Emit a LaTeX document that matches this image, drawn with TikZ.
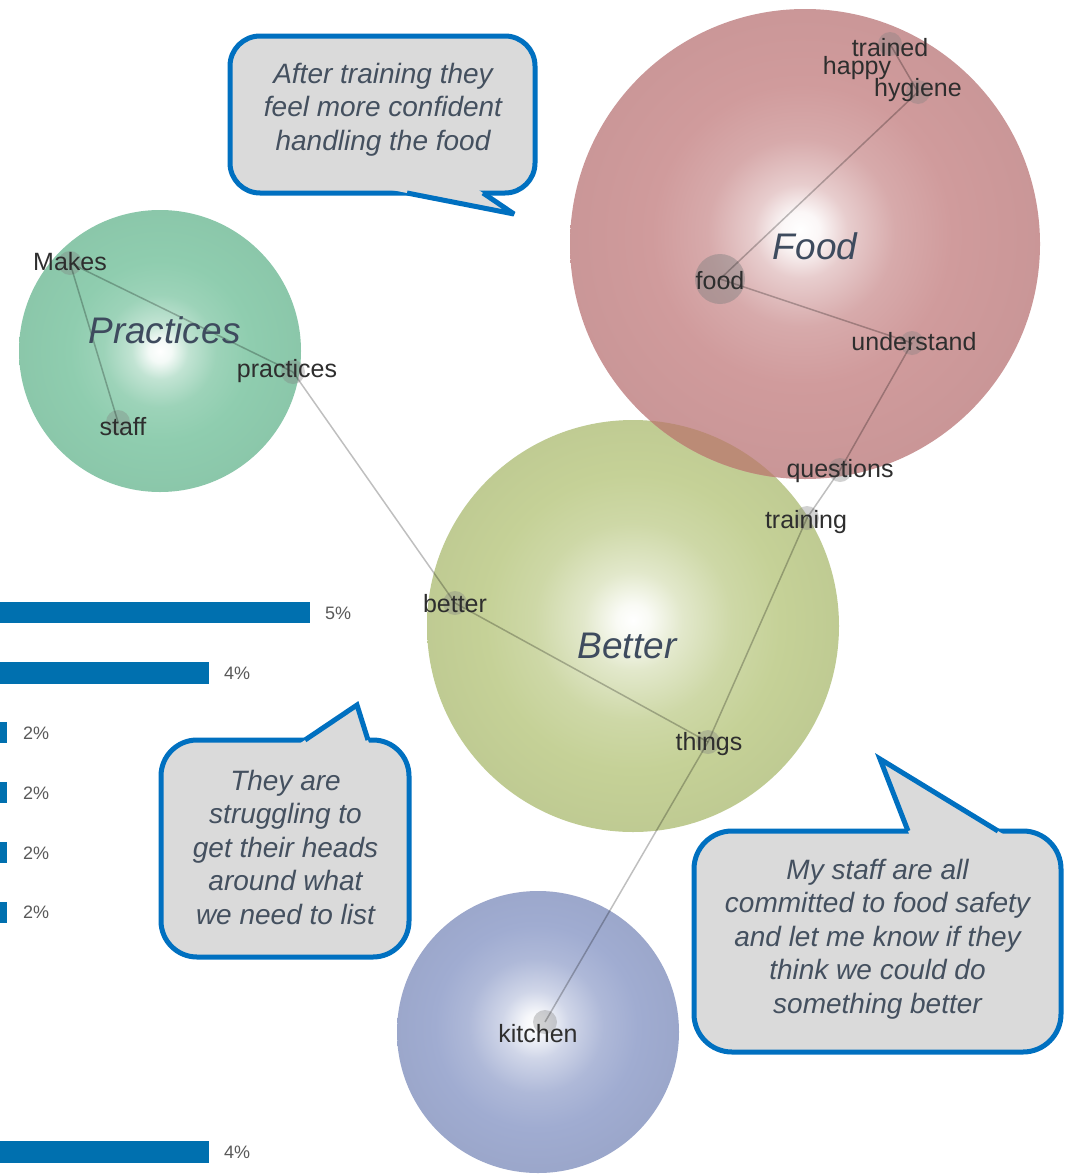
\documentclass[tikz,border=0pt]{standalone}
\usepackage{fontspec}
\setmainfont{Liberation Sans}
\usetikzlibrary{calc}
\definecolor{foodc}{HTML}{D09B9C}
\definecolor{pracc}{HTML}{8FCDAF}
\definecolor{bettc}{HTML}{C5D197}
\definecolor{kitc}{HTML}{A0ACD1}
\definecolor{lensc}{HTML}{BA8B74}
\definecolor{barblue}{HTML}{0070AF}
\definecolor{boxblue}{HTML}{0070C0}
\definecolor{boxgray}{HTML}{DADADA}
\definecolor{qtext}{HTML}{44505F}
\definecolor{titletext}{HTML}{3E4B5E}
\definecolor{pcttext}{HTML}{595959}
\pgfdeclareradialshading{foodsh}{\pgfpoint{-0.5bp}{1.5bp}}{color(0bp)=(white); color(2bp)=(white!92!foodc); color(5bp)=(white!50!foodc); color(10bp)=(white!15!foodc); color(16bp)=(foodc); color(25bp)=(foodc!97!black); color(50bp)=(foodc!97!black)}
\pgfdeclareradialshading{pracsh}{\pgfpoint{0bp}{0bp}}{color(0bp)=(white); color(2bp)=(white!90!pracc); color(5bp)=(white!45!pracc); color(10bp)=(white!12!pracc); color(16bp)=(pracc); color(25bp)=(pracc!97!black); color(50bp)=(pracc!97!black)}
\pgfdeclareradialshading{bettsh}{\pgfpoint{0bp}{0.7bp}}{color(0bp)=(white); color(2bp)=(white!90!bettc); color(6bp)=(white!50!bettc); color(12bp)=(white!15!bettc); color(18bp)=(bettc); color(25bp)=(bettc!97!black); color(50bp)=(bettc!97!black)}
\pgfdeclareradialshading{kitsh}{\pgfpoint{-0.5bp}{1.5bp}}{color(0bp)=(white); color(2bp)=(white!90!kitc); color(6bp)=(white!50!kitc); color(12bp)=(white!15!kitc); color(18bp)=(kitc); color(25bp)=(kitc!97!black); color(50bp)=(kitc!97!black)}
\begin{document}
\begin{tikzpicture}[x=1pt,y=-1pt,
  edge/.style={draw=black,draw opacity=0.25,line width=1.5pt},
  dot/.style={circle,fill=gray,fill opacity=0.35,minimum size=24pt,inner sep=0pt},
  bigdot/.style={circle,fill=gray,fill opacity=0.45,minimum size=50pt,inner sep=0pt},
  lbl/.style={font=\fontsize{25}{30}\selectfont,text=black!82,inner sep=0pt,anchor=base},
  title/.style={font=\itshape\fontsize{37}{44}\selectfont,text=titletext,inner sep=0pt,anchor=base},
  pct/.style={font=\fontsize{18}{22}\selectfont,text=pcttext,inner sep=0pt,anchor=west},
  bar/.style={fill=barblue},
  cbox/.style={fill=boxgray,draw=boxblue,line width=5pt},
  cptr/.style={draw=boxblue,line width=5pt,line join=miter,miter limit=4},
  ctext/.style={font=\itshape\fontsize{28}{33.5}\selectfont,text=qtext,align=center,inner sep=0pt}
]
\useasboundingbox (0,0) rectangle (1067,1175);
\fill[white] (0,0) rectangle (1067,1175);

% bars
\fill[bar] (0,602) rectangle (310,623);
\fill[bar] (0,662) rectangle (209,684);
\fill[bar] (0,722) rectangle (7,743);
\fill[bar] (0,782) rectangle (7,803);
\fill[bar] (0,842) rectangle (7,863);
\fill[bar] (0,902) rectangle (7,923);
\fill[bar] (0,1141) rectangle (209,1163);
\node[pct] (p1) at (325,613) {5\%};
\node[pct] (p2) at (224,673) {4\%};
\node[pct] (p3) at (23,733) {2\%};
\node[pct] (p4) at (23,793) {2\%};
\node[pct] (p5) at (23,853) {2\%};
\node[pct] (p6) at (23,912) {2\%};
\node[pct] (p7) at (224,1152) {4\%};

% clusters
\shade[shading=pracsh] (160,351) circle (141);
\shade[shading=bettsh] (633,626) circle (206);
\shade[shading=foodsh] (805,244) circle (235);
\begin{scope}
  \clip (805,244) circle (235);
  \fill[lensc,opacity=0.92] (633,626) circle (206);
\end{scope}
\shade[shading=kitsh] (538,1032) circle (141);

% word dots
\node[dot] (dMakes) at (70,263) {};
\node[dot] (dStaff) at (118,422) {};
\node[dot] (dPrac) at (293,372) {};
\node[dot] (dBetter) at (455,603) {};
\node[dot] (dThings) at (708,742) {};
\node[bigdot] (dFood) at (720,279) {};
\node[dot] (dHyg) at (918,92) {};
\node[dot] (dTrained) at (890,44) {};
\node[dot] (dUnder) at (912,343) {};
\node[dot] (dQuest) at (840,470) {};
\node[dot] (dTrain) at (807,518) {};
\node[dot] (dKitchen) at (545,1022) {};

% connectors
\draw[edge] (dMakes.center) -- (dPrac.center);
\draw[edge] (dMakes.center) -- (dStaff.center);
\draw[edge] (dPrac.center) -- (dBetter.center);
\draw[edge] (dBetter.center) -- (dThings.center);
\draw[edge] (dFood.center) -- (dHyg.center);
\draw[edge] (dTrained.center) -- (dHyg.center);
\draw[edge] (dFood.center) -- (dUnder.center);
\draw[edge] (dUnder.center) -- (dQuest.center);
\draw[edge] (dQuest.center) -- (dTrain.center);
\draw[edge] (dTrain.center) -- (dThings.center);
\draw[edge] (dThings.center) -- (dKitchen.center);

% word labels
\node[lbl] (tTrained) at (890,56) {trained};
\node[lbl] (tHappy) at (857,74) {happy};
\node[lbl] (tHyg) at (918,96) {hygiene};
\node[lbl] (tFood) at (720,289) {food};
\node[lbl] (tUnder) at (914,350) {understand};
\node[lbl] (tQuest) at (840,477) {questions};
\node[lbl] (tTrain) at (806,528) {training};
\node[lbl] (tMakes) at (70,270) {Makes};
\node[lbl] (tPrac) at (287,377) {practices};
\node[lbl] (tStaff) at (123,435) {staff};
\node[lbl] (tBetter) at (455,612) {better};
\node[lbl] (tThings) at (709,750) {things};
\node[lbl] (tKitchen) at (538,1042) {kitchen};

% cluster titles
\node[title] (FoodT) at (815,259) {Food};
\node[title] (PracT) at (164.5,343) {Practices};
\node[title] (BettT) at (627,658) {Better};

% callout 1
\draw[cbox,rounded corners=30pt] (230,36) rectangle (535,193);
\coordinate (c1a) at (407,193);
\coordinate (c1t) at (514,214);
\coordinate (c1b) at (483,193);
\fill[boxgray] ($(c1t)!1.4!(c1a)$) -- (c1t) -- ($(c1t)!1.4!(c1b)$) -- cycle;
\draw[cptr] (c1a) -- (c1t) -- (c1b);
\node[ctext] (q1) at (383,109.5) {After training they\\feel more confident\\handling the food};

% callout 2
\draw[cbox,rounded corners=36pt] (161,740) rectangle (409,957);
\coordinate (c2a) at (305,740);
\coordinate (c2t) at (357,705);
\coordinate (c2b) at (368,740);
\fill[boxgray] ($(c2t)!1.4!(c2a)$) -- (c2t) -- ($(c2t)!1.4!(c2b)$) -- cycle;
\draw[cptr] (c2a) -- (c2t) -- (c2b);
\node[ctext] (q2) at (285.5,847) {They are\\struggling to\\get their heads\\around what\\we need to list};

% callout 3
\draw[cbox,rounded corners=38pt] (694,831) rectangle (1061,1052);
\coordinate (c3a) at (908,831);
\coordinate (c3t) at (880,759);
\coordinate (c3b) at (998,831);
\fill[boxgray] ($(c3t)!1.3!(c3a)$) -- (c3t) -- ($(c3t)!1.3!(c3b)$) -- cycle;
\draw[cptr] (c3a) -- (c3t) -- (c3b);
\node[ctext] (q3) at (877.5,939) {My staff are all\\committed to food safety\\and let me know if they\\think we could do\\something better};
\end{tikzpicture}
\end{document}
